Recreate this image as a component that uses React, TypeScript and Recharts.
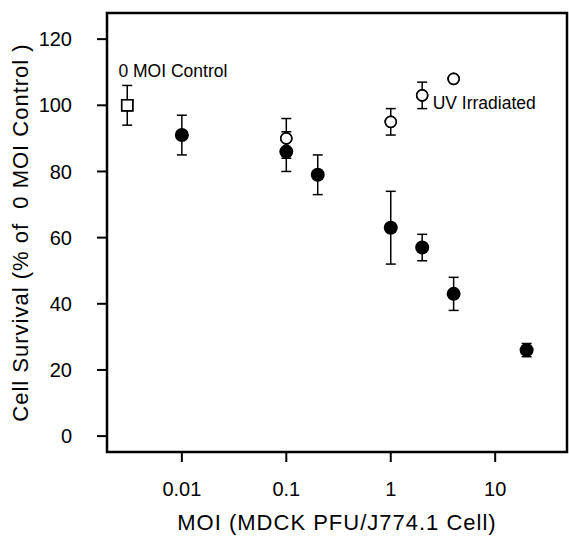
import { ScatterChart, Scatter, XAxis, YAxis, ErrorBar, ReferenceArea, ReferenceDot } from 'recharts';

// MOI values and cell survival
const controlMoi = [0.003];
const controlSurvival = [100];
const controlErr = [6];

const liveMoi = [0.01, 0.1, 0.2, 1, 2, 4, 20];
const liveSurvival = [91, 86, 79, 63, 57, 43, 26];
const liveErr = [6, 6, 6, 11, 4, 5, 2];

const uvMoi = [0.1, 1, 2, 4];
const uvSurvival = [90, 95, 103, 108];
const uvErr = [6, 4, 4, 0];

const xTicks = [0.01, 0.1, 1, 10];
const yTicks = [0, 20, 40, 60, 80, 100, 120];
const xDomain = [0.00192, 48.7];
const yDomain = [-4.8, 127.9];

const font = '"Liberation Sans", Arial, Helvetica, sans-serif';

const toRows = (moi: number[], surv: number[], err: number[]) =>
  moi.map((m, i) => ({ moi: m, survival: surv[i], err: err[i] }));

const controlData = toRows(controlMoi, controlSurvival, controlErr);
const liveData = toRows(liveMoi, liveSurvival, liveErr);
const uvData = toRows(uvMoi, uvSurvival, uvErr);

const FilledDot = (p: any) => <circle cx={p.cx} cy={p.cy} r={7} fill="#000" />;
const OpenDot = (p: any) => (
  <circle cx={p.cx} cy={p.cy} r={5.5} fill="#fff" stroke="#000" strokeWidth={1.6} />
);
const OpenSquare = (p: any) => (
  <rect x={p.cx - 5.5} y={p.cy - 5.5} width={11} height={11} fill="#fff" stroke="#000" strokeWidth={1.6} />
);

const annot = (text: string) => (props: any) => {
  const vb = props.viewBox || {};
  return (
    <text x={vb.x} y={vb.y} fill="#000" fontSize={17.5} fontFamily={font} textAnchor="start">
      {text}
    </text>
  );
};

const tickStyle = { fill: '#000', fontSize: 20, fontFamily: font };
const tickLine = { stroke: '#000', strokeWidth: 2 };
const bar = { direction: 'y' as const, width: 5, stroke: '#000', strokeWidth: 1.5, isAnimationActive: false };

export default function App() {
  return (
    <div style={{ position: 'absolute', left: 0, top: 0, background: '#fff' }}>
      <ScatterChart width={569} height={537} margin={{ top: 13, right: 2, bottom: 0, left: 0 }}>
        <XAxis
          type="number"
          dataKey="moi"
          scale="log"
          domain={xDomain}
          allowDataOverflow
          ticks={xTicks}
          tickFormatter={(v: number) => String(v)}
          height={85}
          axisLine={false}
          tickLine={tickLine}
          tickSize={10}
          tickMargin={20}
          tick={tickStyle}
          label={{
            content: (props: any) => {
              const vb = props.viewBox;
              return (
                <text
                  x={vb.x + vb.width / 2}
                  y={vb.y + 78}
                  textAnchor="middle"
                  fill="#000"
                  fontSize={22}
                  fontFamily={font}
                  letterSpacing={1}
                >
                  MOI (MDCK PFU/J774.1 Cell)
                </text>
              );
            },
          }}
        />
        <YAxis
          type="number"
          dataKey="survival"
          domain={yDomain}
          allowDataOverflow
          ticks={yTicks}
          width={107}
          axisLine={false}
          tickLine={tickLine}
          tickSize={10}
          tickMargin={25}
          tick={tickStyle}
          label={{
            content: (props: any) => {
              const vb = props.viewBox;
              const cx = vb.x + 20;
              const cy = vb.y + vb.height / 2;
              return (
                <text
                  x={cx}
                  y={cy}
                  transform={`rotate(-90 ${cx} ${cy})`}
                  textAnchor="middle"
                  dominantBaseline="central"
                  fill="#000"
                  fontSize={22}
                  fontFamily={font}
                  letterSpacing={1}
                >
                  {'Cell Survival (% of \u00a00 MOI Control )'}
                </text>
              );
            },
          }}
        />
        <ReferenceArea
          x1={xDomain[0]}
          x2={xDomain[1]}
          y1={yDomain[0]}
          y2={yDomain[1]}
          fill="none"
          fillOpacity={0}
          stroke="#000"
          strokeWidth={2.5}
          ifOverflow="visible"
        />
        <Scatter data={liveData} shape={FilledDot} isAnimationActive={false}>
          <ErrorBar dataKey="err" {...bar} />
        </Scatter>
        <Scatter data={uvData} shape={OpenDot} isAnimationActive={false}>
          <ErrorBar dataKey="err" {...bar} />
        </Scatter>
        <Scatter data={controlData} shape={OpenSquare} isAnimationActive={false}>
          <ErrorBar dataKey="err" {...bar} />
        </Scatter>
        {/* redraw the open markers so the bars do not cross them */}
        <Scatter data={uvData} shape={OpenDot} isAnimationActive={false} legendType="none" />
        <Scatter data={controlData} shape={OpenSquare} isAnimationActive={false} legendType="none" />
        <ReferenceDot x={0.00247} y={108.5} r={0} fill="none" stroke="none" label={{ content: annot('0 MOI Control') }} />
        <ReferenceDot x={2.52} y={98.9} r={0} fill="none" stroke="none" label={{ content: annot('UV Irradiated') }} />
      </ScatterChart>
    </div>
  );
}
